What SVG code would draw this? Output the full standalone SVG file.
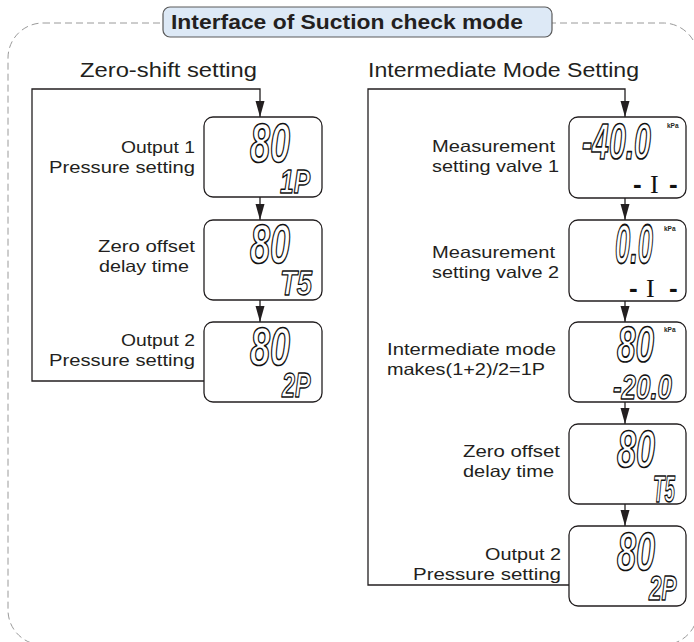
<svg xmlns="http://www.w3.org/2000/svg" width="694" height="642" viewBox="0 0 694 642">
<style>
.lbl{font-family:"Liberation Sans",Arial,sans-serif;font-size:16.5px;fill:#231f20}
.hdr{font-family:"Liberation Sans",Arial,sans-serif;font-size:19.5px;fill:#231f20}
.ttl{font-family:"Liberation Sans",Arial,sans-serif;font-size:21px;font-weight:bold;fill:#231f20}
.box{fill:#fff;stroke:#231f20;stroke-width:1.3}
.seg{font-family:"Liberation Sans",Arial,sans-serif;font-style:italic;font-weight:bold;fill:#fff;stroke:#111;stroke-width:1.4;stroke-linejoin:round;vector-effect:non-scaling-stroke}
.segs{font-family:"Liberation Sans",Arial,sans-serif;font-style:italic;font-weight:bold;fill:#fff;stroke:#111;stroke-width:1.2;stroke-linejoin:round;vector-effect:non-scaling-stroke}
.ser{font-family:"Liberation Serif",serif;fill:#111}
.dsh{font-family:"Liberation Sans",Arial,sans-serif;font-weight:bold;fill:#111}
.kpa{font-family:"Liberation Sans",Arial,sans-serif;font-size:6.5px;font-weight:bold;fill:#231f20}
.con{fill:none;stroke:#231f20;stroke-width:1.3}
</style>
<defs>
<marker id="ah" markerUnits="userSpaceOnUse" markerWidth="16" markerHeight="10" viewBox="0 0 16 10" refX="16" refY="5" orient="auto">
<path d="M0,0.5 L16,5 L0,9.5 z" fill="#231f20"/>
</marker>
</defs>
<rect id="frame" x="8" y="23" width="690" height="622" rx="35" fill="none" stroke="#9a9a9a" stroke-width="1" stroke-dasharray="7 4"/>
<g id="title">
<rect x="163" y="7" width="389" height="30" rx="7" fill="#dde9f6" stroke="#5a5a5a" stroke-width="1.2"/>
<text class="ttl" x="171" y="29" textLength="352" lengthAdjust="spacingAndGlyphs">Interface of Suction check mode</text>
</g>
<text id="hdr-left" class="hdr" x="80" y="77" textLength="177" lengthAdjust="spacingAndGlyphs">Zero-shift setting</text>
<text id="hdr-right" class="hdr" x="368" y="77" textLength="271" lengthAdjust="spacingAndGlyphs">Intermediate Mode Setting</text>
<g id="connectors">
<path class="con" d="M204,381 H32 V89 H260 V117" marker-end="url(#ah)"/>
<path class="con" d="M260,197 V220" marker-end="url(#ah)"/>
<path class="con" d="M260,300 V322" marker-end="url(#ah)"/>
<path class="con" d="M569,585 H368 V89 H625 V117" marker-end="url(#ah)"/>
<path class="con" d="M625,198 V220" marker-end="url(#ah)"/>
<path class="con" d="M625,301 V322" marker-end="url(#ah)"/>
<path class="con" d="M625,402 V424" marker-end="url(#ah)"/>
<path class="con" d="M625,504 V526" marker-end="url(#ah)"/>
</g>
<g id="L1">
<rect class="box" x="204" y="117" width="118" height="80" rx="9"/>
<text class="lbl" x="121" y="153" textLength="74" lengthAdjust="spacingAndGlyphs">Output 1</text>
<text class="lbl" x="49" y="173" textLength="146" lengthAdjust="spacingAndGlyphs">Pressure setting</text>
<text class="seg" font-size="55" transform="translate(250,162) scale(0.654,1)">80</text>
<text class="segs" font-size="33" transform="translate(280,193) scale(0.743,1)">1P</text>
</g>
<g id="L2">
<rect class="box" x="204" y="220" width="118" height="80" rx="9"/>
<text class="lbl" x="98" y="252" textLength="97" lengthAdjust="spacingAndGlyphs">Zero offset</text>
<text class="lbl" x="99" y="272" textLength="90" lengthAdjust="spacingAndGlyphs">delay time</text>
<text class="seg" font-size="55" transform="translate(250,263) scale(0.654,1)">80</text>
<text class="segs" font-size="36" transform="translate(280,295) scale(0.76,1)">T5</text>
</g>
<g id="L3">
<rect class="box" x="204" y="322" width="118" height="80" rx="9"/>
<text class="lbl" x="121" y="346" textLength="74" lengthAdjust="spacingAndGlyphs">Output 2</text>
<text class="lbl" x="49" y="366" textLength="146" lengthAdjust="spacingAndGlyphs">Pressure setting</text>
<text class="seg" font-size="53" transform="translate(250,365) scale(0.679,1)">80</text>
<text class="segs" font-size="35" transform="translate(282,397) scale(0.665,1)">2P</text>
</g>
<g id="R1">
<rect class="box" x="569" y="117" width="117" height="81" rx="9"/>
<text class="lbl" x="432" y="152" textLength="123" lengthAdjust="spacingAndGlyphs">Measurement</text>
<text class="lbl" x="432" y="172" textLength="127" lengthAdjust="spacingAndGlyphs">setting valve 1</text>
<text class="seg" font-size="50" transform="translate(582,159) scale(0.605,1)">-40.0</text>
<text class="kpa" x="667" y="128">kPa</text>
<text y="193" font-size="26"><tspan class="dsh" x="633">-</tspan><tspan class="ser" x="650">I</tspan><tspan class="dsh" x="669">-</tspan></text>
</g>
<g id="R2">
<rect class="box" x="569" y="220" width="117" height="81" rx="9"/>
<text class="lbl" x="432" y="258" textLength="123" lengthAdjust="spacingAndGlyphs">Measurement</text>
<text class="lbl" x="432" y="278" textLength="127" lengthAdjust="spacingAndGlyphs">setting valve 2</text>
<text class="seg" font-size="55" transform="translate(615,263) scale(0.497,1)">0.0</text>
<text class="kpa" x="664" y="231">kPa</text>
<text y="297" font-size="26"><tspan class="dsh" x="629">-</tspan><tspan class="ser" x="646">I</tspan><tspan class="dsh" x="669">-</tspan></text>
</g>
<g id="R3">
<rect class="box" x="569" y="322" width="117" height="80" rx="9"/>
<text class="lbl" x="387" y="355" textLength="169" lengthAdjust="spacingAndGlyphs">Intermediate mode</text>
<text class="lbl" x="387" y="375" textLength="158" lengthAdjust="spacingAndGlyphs">makes(1+2)/2=1P</text>
<text class="seg" font-size="50" transform="translate(617,362) scale(0.665,1)">80</text>
<text class="kpa" x="664" y="332">kPa</text>
<text class="segs" font-size="35" transform="translate(613,399) scale(0.74,1)">-20.0</text>
</g>
<g id="R4">
<rect class="box" x="569" y="424" width="117" height="80" rx="9"/>
<text class="lbl" x="463" y="457" textLength="97" lengthAdjust="spacingAndGlyphs">Zero offset</text>
<text class="lbl" x="463" y="477" textLength="91" lengthAdjust="spacingAndGlyphs">delay time</text>
<text class="seg" font-size="52" transform="translate(617,467) scale(0.657,1)">80</text>
<text class="segs" font-size="36" transform="translate(653,502) scale(0.52,1)">T5</text>
</g>
<g id="R5">
<rect class="box" x="569" y="526" width="117" height="80" rx="9"/>
<text class="lbl" x="485" y="560" textLength="76" lengthAdjust="spacingAndGlyphs">Output 2</text>
<text class="lbl" x="413" y="580" textLength="148" lengthAdjust="spacingAndGlyphs">Pressure setting</text>
<text class="seg" font-size="53" transform="translate(617,570) scale(0.645,1)">80</text>
<text class="segs" font-size="35" transform="translate(649,600) scale(0.64,1)">2P</text>
</g>
</svg>
